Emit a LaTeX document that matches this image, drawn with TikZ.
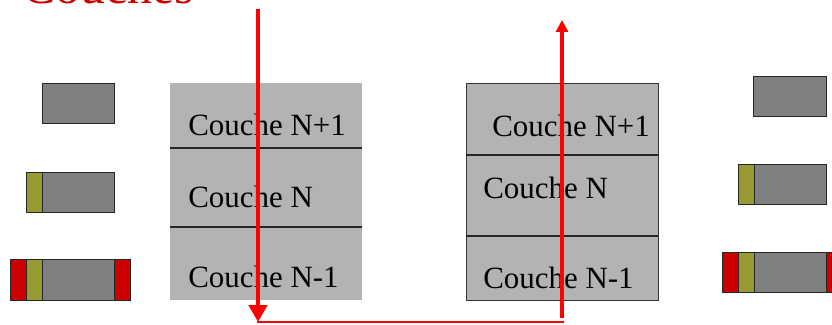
\documentclass[tikz,border=0pt]{standalone}
\usepackage{fontspec}
\setmainfont{Liberation Serif}
\usetikzlibrary{arrows.meta}
\definecolor{pdugray}{HTML}{808080}
\definecolor{hdrolive}{HTML}{999933}
\definecolor{trlred}{HTML}{CC0000}
\definecolor{layergray}{HTML}{B3B3B3}
\definecolor{flowred}{HTML}{FF0000}
\begin{document}
\begin{tikzpicture}[x=0.025cm,y=-0.025cm]
		\tikzstyle{layer}=[anchor=base west,inner sep=0pt,font=\fontsize{22}{26}\selectfont]
		\tikzstyle{blk}=[draw=black!85,line width=0.7pt]
		\tikzstyle{flow}=[draw=flowred]
		\useasboundingbox (0,0) rectangle (832,324);

		\node[anchor=base west,inner sep=0pt,text=trlred,font=\fontsize{35.4}{40}\selectfont](title) at (22,3){Couches};

		% pile emettrice
		\fill[layergray] (170,83) rectangle (362,300);
		\draw[black!85,line width=0.8pt] (170,148) -- (362,148);
		\draw[black!85,line width=0.8pt] (170,227) -- (362,227);
		\node[layer](sNp) at (188,135){Couche N+1};
		\node[layer](sN) at (188,207){Couche N};
		\node[layer](sNm) at (188,287){Couche N-1};

		% pile receptrice
		\filldraw[fill=layergray,draw=black!80,line width=0.7pt] (466,83) rectangle (658,300);
		\draw[black!85,line width=0.8pt] (466,155) -- (658,155);
		\draw[black!85,line width=0.8pt] (466,236) -- (658,236);
		\node[layer](rNp) at (492,136){Couche N+1};
		\node[layer](rN) at (483,198){Couche N};
		\node[layer](rNm) at (483,288){Couche N-1};

		% encapsulation a gauche
		\filldraw[blk,fill=pdugray] (42,83) rectangle (114,123);
		\filldraw[blk,fill=hdrolive] (26,172) rectangle (42,212);
		\filldraw[blk,fill=pdugray] (42,172) rectangle (114,212);
		\filldraw[blk,fill=trlred] (10,259) rectangle (26,300);
		\filldraw[blk,fill=hdrolive] (26,259) rectangle (42,300);
		\filldraw[blk,fill=pdugray] (42,259) rectangle (114,300);
		\filldraw[blk,fill=trlred] (114,259) rectangle (130,300);

		% decapsulation a droite
		\filldraw[blk,fill=pdugray] (753,76) rectangle (826,116);
		\filldraw[blk,fill=hdrolive] (738,164) rectangle (754,204);
		\filldraw[blk,fill=pdugray] (754,164) rectangle (826,204);
		\filldraw[blk,fill=trlred] (722,252) rectangle (738,292);
		\filldraw[blk,fill=hdrolive] (738,252) rectangle (754,292);
		\filldraw[blk,fill=pdugray] (754,252) rectangle (826,292);
		\filldraw[blk,fill=trlred] (826,252) rectangle (842,292);

		% trajet des donnees
		\coordinate (down0) at (258,9);
		\coordinate (down1) at (258,322);
		\coordinate (bot0) at (257,322);
		\coordinate (bot1) at (564,322);
		\coordinate (up0) at (562,318);
		\coordinate (up1) at (562,20);
		\draw[flow,line width=3.5pt,-{Triangle[width=12.8pt,length=12pt]}] (down0) -- (down1);
		\draw[flow,line width=1.8pt] (bot0) -- (bot1);
		\draw[flow,line width=2.5pt,-{Triangle[width=8.5pt,length=8.5pt]}] (up0) -- (up1);
\end{tikzpicture}
\end{document}
